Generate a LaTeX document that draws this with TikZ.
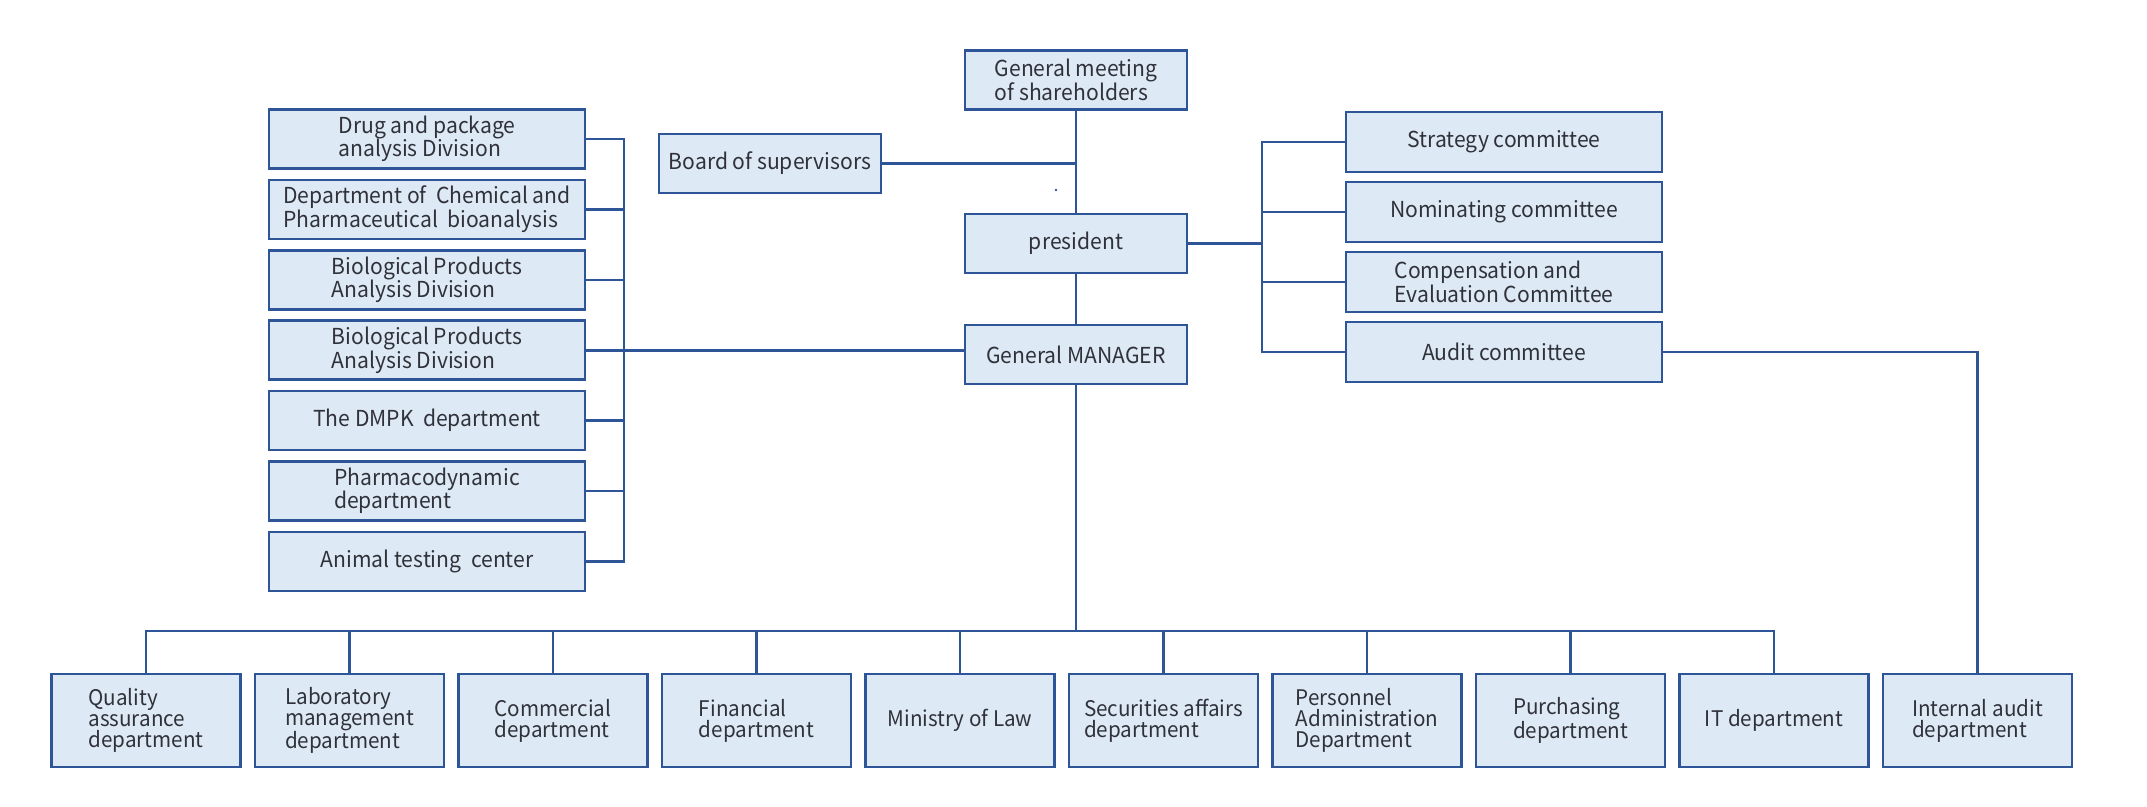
\documentclass[tikz,border=0pt]{standalone}
\usepackage{fontspec}
\setmainfont{Noto Sans CJK SC}[FakeStretch=0.96]
\definecolor{boxfill}{HTML}{DEE9F6}
\definecolor{boxline}{HTML}{2E5597}
\definecolor{txt}{HTML}{30323A}
\begin{document}
\begin{tikzpicture}[x=1pt,y=-1pt,
  box/.style={draw=boxline, fill=boxfill, line width=2.6pt, inner sep=0pt,
    text=txt, align=left, font=\fontsize{22}{23.5}\selectfont},
  lbox/.style={box, minimum width=316pt, minimum height=59pt},
  cbox/.style={box, minimum width=316pt, minimum height=60pt},
  mbox/.style={box, minimum width=222pt, minimum height=59pt},
  dbox/.style={box, minimum width=189pt, minimum height=93pt, font=\fontsize{21.5}{21}\selectfont},
  conn/.style={draw=boxline, line width=2.6pt}]
\useasboundingbox (0,0) rectangle (2147,806);

% centre column
\node[mbox] (gms) at (1076,80) {General meeting\\of shareholders};
\node[mbox] (board) at (770,163.5) {Board of supervisors};
\node[mbox] (pres) at (1076,243.5) {president};
\node[mbox] (gm) at (1076,354.5) {General MANAGER};

% left divisions
\node[lbox] (b1) at (427,139) {Drug and package\\analysis Division};
\node[lbox] (b2) at (427,209.4) {Department of\ \ Chemical and\\Pharmaceutical\ \ bioanalysis};
\node[lbox] (b3) at (427,279.8) {Biological Products\\Analysis Division};
\node[lbox] (b4) at (427,350.2) {Biological Products\\Analysis Division};
\node[lbox] (b5) at (427,420.6) {The DMPK\ \ department};
\node[lbox] (b6) at (427,491) {Pharmacodynamic\\department};
\node[lbox] (b7) at (427,561.4) {Animal testing\ \ center};

% committees
\node[cbox] (c1) at (1504,142) {Strategy committee};
\node[cbox] (c2) at (1504,212) {Nominating committee};
\node[cbox] (c3) at (1504,282) {Compensation and\\Evaluation Committee};
\node[cbox] (c4) at (1504,352) {Audit committee};

% departments
\node[dbox] (d1) at (146,720.5) {Quality\\assurance\\department};
\node[dbox] (d2) at (349.5,720.5) {Laboratory\\management\\department};
\node[dbox] (d3) at (553,720.5) {Commercial\\department};
\node[dbox] (d4) at (756.5,720.5) {Financial\\department};
\node[dbox] (d5) at (960,720.5) {Ministry of Law};
\node[dbox] (d6) at (1163.5,720.5) {Securities affairs\\department};
\node[dbox] (d7) at (1367,720.5) {Personnel\\Administration\\Department};
\node[dbox] (d8) at (1570.5,720.5) {Purchasing\\department};
\node[dbox] (d9) at (1774,720.5) {IT department};
\node[dbox] (ia) at (1977.5,720.5) {Internal audit\\department};

\coordinate (lb) at (624,0);
\coordinate (cb) at (1262,0);
\coordinate (bb) at (0,631);

% spine
\draw[conn] (gms.south) -- (pres.north);
\draw[conn] (pres.south) -- (gm.north);
\draw[conn] (board.east) -- (board.east -| gms.south);
\fill[boxline] (1056,190) circle (1.4pt);

% left bus
\draw[conn] (b1.east) -- (b1.east -| lb) -- (b7.east -| lb) -- (b7.east);
\foreach \n in {b2,b3,b5,b6} \draw[conn] (\n.east) -- (\n.east -| lb);
\draw[conn] (b4.east) -- (b4.east -| gm.west);

% committee bus
\draw[conn] (c1.west) -- (c1.west -| cb) -- (c4.west -| cb) -- (c4.west);
\foreach \n in {c2,c3} \draw[conn] (\n.west) -- (\n.west -| cb);
\draw[conn] (pres.east) -- (pres.east -| cb);
\draw[conn] (c4.east) -- (c4.east -| ia.north) -- (ia.north);

% bottom bus
\draw[conn] (gm.south) -- (gm.south |- bb);
\draw[conn] (d1.north) -- (d1.north |- bb) -- (d9.north |- bb) -- (d9.north);
\foreach \n in {d2,d3,d4,d5,d6,d7,d8} \draw[conn] (\n.north) -- (\n.north |- bb);
\end{tikzpicture}
\end{document}
